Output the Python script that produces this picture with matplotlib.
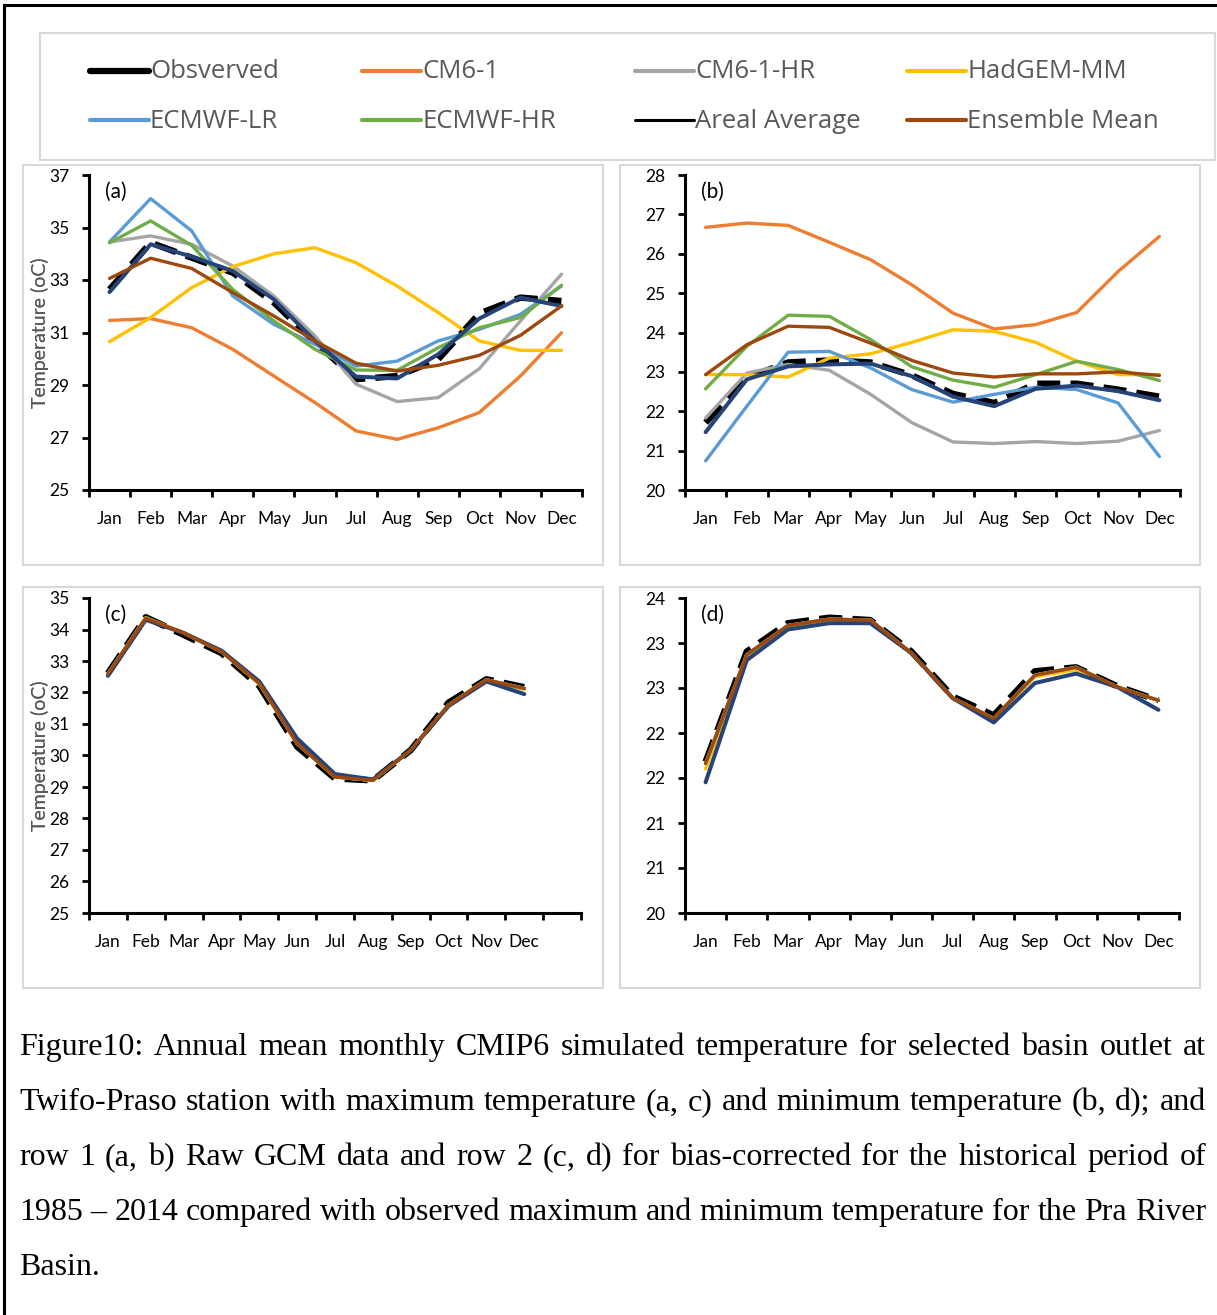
import numpy as np
import matplotlib
matplotlib.use("Agg")
import matplotlib.pyplot as plt
from matplotlib.lines import Line2D
from matplotlib.patches import Rectangle
from matplotlib.ticker import FixedLocator, FuncFormatter, NullFormatter

# ---------------------------------------------------------------- data
months = ["Jan", "Feb", "Mar", "Apr", "May", "Jun",
          "Jul", "Aug", "Sep", "Oct", "Nov", "Dec"]

series_names = ["Obsverved", "CM6-1", "CM6-1-HR", "HadGEM-MM",
                "ECMWF-LR", "ECMWF-HR", "Areal Average", "Ensemble Mean"]

# (a) raw GCM maximum temperature
tmax_obs = [32.64, 34.42, 33.85, 33.28, 32.14, 30.64, 29.22, 29.34, 29.98, 31.72, 32.33, 32.20]
tmax_cm61 = [31.46, 31.53, 31.18, 30.36, 29.34, 28.33, 27.25, 26.93, 27.37, 27.95, 29.34, 30.99]
tmax_cm61hr = [34.45, 34.68, 34.36, 33.53, 32.39, 30.87, 29.03, 28.37, 28.52, 29.62, 31.44, 33.22]
tmax_hadgem = [30.65, 31.57, 32.71, 33.51, 34.00, 34.23, 33.66, 32.77, 31.76, 30.68, 30.32, 30.32]
tmax_ecmwf_lr = [34.45, 36.10, 34.87, 32.39, 31.31, 30.55, 29.72, 29.91, 30.68, 31.12, 31.69, 32.77]
tmax_ecmwf_hr = [34.42, 35.25, 34.32, 32.64, 31.44, 30.36, 29.57, 29.56, 30.42, 31.18, 31.57, 32.80]
tmax_areal = [32.54, 34.36, 33.89, 33.34, 32.26, 30.68, 29.32, 29.25, 30.17, 31.53, 32.33, 32.01]
tmax_ens = [33.06, 33.83, 33.44, 32.52, 31.63, 30.68, 29.83, 29.53, 29.75, 30.13, 30.89, 32.01]

# (b) raw GCM minimum temperature
tmin_obs = [21.71, 22.85, 23.24, 23.29, 23.24, 22.91, 22.44, 22.21, 22.70, 22.70, 22.55, 22.37]
tmin_cm61 = [26.67, 26.78, 26.72, 26.29, 25.85, 25.21, 24.49, 24.09, 24.20, 24.51, 25.55, 26.44]
tmin_cm61hr = [21.83, 22.97, 23.19, 23.04, 22.43, 21.71, 21.22, 21.18, 21.23, 21.18, 21.24, 21.51]
tmin_hadgem = [22.93, 22.93, 22.87, 23.35, 23.46, 23.75, 24.07, 24.03, 23.75, 23.27, 22.93, 22.93]
tmin_ecmwf_lr = [20.74, 22.13, 23.50, 23.52, 23.10, 22.55, 22.23, 22.43, 22.61, 22.55, 22.21, 20.85]
tmin_ecmwf_hr = [22.57, 23.65, 24.44, 24.41, 23.82, 23.13, 22.79, 22.61, 22.93, 23.27, 23.06, 22.78]
tmin_areal = [21.47, 22.81, 23.14, 23.19, 23.21, 22.89, 22.37, 22.13, 22.57, 22.65, 22.51, 22.28]
tmin_ens = [22.93, 23.69, 24.16, 24.13, 23.73, 23.29, 22.97, 22.87, 22.95, 22.95, 23.00, 22.91]

# (c) bias-corrected maximum temperature
tmax_bc_obs = [32.61, 34.39, 33.83, 33.25, 32.21, 30.28, 29.27, 29.21, 30.17, 31.68, 32.42, 32.17]
tmax_bc_gcm = [32.59, 34.36, 33.89, 33.30, 32.29, 30.38, 29.32, 29.21, 30.17, 31.60, 32.40, 32.13]
tmax_bc_hadgem = [32.59, 34.38, 33.89, 33.30, 32.27, 30.38, 29.32, 29.21, 30.17, 31.60, 32.40, 32.10]
tmax_bc_areal = [32.53, 34.31, 33.89, 33.33, 32.35, 30.54, 29.41, 29.24, 30.17, 31.57, 32.35, 31.95]
tmax_bc_ens = [32.59, 34.36, 33.89, 33.30, 32.29, 30.38, 29.32, 29.21, 30.17, 31.60, 32.40, 32.13]

# (d) bias-corrected minimum temperature
tmin_bc_obs = [21.92, 23.32, 23.68, 23.75, 23.72, 23.32, 22.75, 22.51, 23.07, 23.12, 22.88, 22.70]
tmin_bc_gcm = [21.90, 23.28, 23.65, 23.73, 23.72, 23.30, 22.73, 22.47, 23.02, 23.12, 22.87, 22.70]
tmin_bc_hadgem = [21.83, 23.26, 23.64, 23.72, 23.72, 23.30, 22.73, 22.47, 23.00, 23.09, 22.87, 22.70]
tmin_bc_areal = [21.66, 23.21, 23.60, 23.68, 23.68, 23.30, 22.73, 22.42, 22.92, 23.04, 22.87, 22.58]
tmin_bc_ens = [21.90, 23.28, 23.65, 23.73, 23.72, 23.30, 22.73, 22.47, 23.02, 23.12, 22.87, 22.70]

caption_lines = [
    "Figure10: Annual mean monthly CMIP6 simulated temperature for selected basin outlet at",
    "Twifo-Praso station with maximum temperature (a, c) and minimum temperature (b, d); and",
    "row 1 (a, b) Raw GCM data and row 2 (c, d) for bias-corrected for the historical period of",
    "1985 \u2013 2014 compared with observed maximum and minimum temperature for the Pra River",
    "Basin.",
]

# ---------------------------------------------------------------- styles
colors = ["#000000", "#ED7D31", "#A5A5A5", "#FFC000",
          "#5B9BD5", "#70AD47", "#264478", "#9E480E"]
W, H = 1217, 1315
SANS = ["Lato", "DejaVu Sans"]
LEG = ["Open Sans", "DejaVu Sans"]
SERIF = ["Liberation Serif", "DejaVu Serif"]

fig = plt.figure(figsize=(W / 100, H / 100), dpi=100)
fig.patch.set_facecolor("white")


def fx(x):
    return x / W


def fy(y):
    return 1 - y / H


def add_axes_px(l, r, t, b):
    return fig.add_axes([l / W, 1 - b / H, (r - l) / W, (b - t) / H])


# outer frame (top and left rules)
fig.add_artist(Line2D([fx(4), fx(1217)], [fy(5), fy(5)], color="black", lw=2.2,
                      transform=fig.transFigure))
fig.add_artist(Line2D([fx(4), fx(4)], [fy(5), fy(1315)], color="black", lw=2.2,
                      transform=fig.transFigure))

# light grey chart-area boxes (drawn beneath the axes)
for (l, t, r, b) in [(40, 33, 1215, 160), (23, 165, 603, 565), (620, 165, 1200, 565),
                     (23, 587, 603, 988), (620, 587, 1200, 988)]:
    fig.add_artist(Rectangle((fx(l), fy(b)), (r - l) / W, (b - t) / H,
                             transform=fig.transFigure, facecolor="none",
                             edgecolor="#D9D9D9", lw=1.5, zorder=-5))

# ---------------------------------------------------------------- legend
leg_cols = [90, 362, 635, 907]
leg_rows = [71, 120]
leg_swatch_colors = ["#000000", "#ED7D31", "#A5A5A5", "#FFC000",
                     "#5B9BD5", "#70AD47", "#000000", "#9E480E"]
leg_swatch_widths = [4.5, 3.0, 3.0, 3.0, 3.0, 3.0, 2.2, 3.0]
for i, name in enumerate(series_names):
    r, c = divmod(i, 4)
    x0, y0 = leg_cols[c], leg_rows[r]
    fig.add_artist(Line2D([fx(x0), fx(x0 + 59)], [fy(y0), fy(y0)],
                          color=leg_swatch_colors[i], lw=leg_swatch_widths[i],
                          solid_capstyle="round", transform=fig.transFigure))
    fig.text(fx(x0 + 60), fy(y0 + 1), name, color="#595959", fontsize=18.5,
             family=LEG, ha="left", va="center")

# ---------------------------------------------------------------- panels
panels = [
    dict(rect=(89, 582, 175, 490), tag="(a)", ncat=12, ylim=(25, 37),
         yticks=np.arange(25, 38, 2),
         data=[tmax_obs, tmax_cm61, tmax_cm61hr, tmax_hadgem,
               tmax_ecmwf_lr, tmax_ecmwf_hr, tmax_areal, tmax_ens]),
    dict(rect=(685, 1180, 175, 490), tag="(b)", ncat=12, ylim=(20, 28),
         yticks=np.arange(20, 29, 1),
         data=[tmin_obs, tmin_cm61, tmin_cm61hr, tmin_hadgem,
               tmin_ecmwf_lr, tmin_ecmwf_hr, tmin_areal, tmin_ens]),
    dict(rect=(89, 581, 598, 913), tag="(c)", ncat=13, ylim=(25, 35),
         yticks=np.arange(25, 36, 1),
         data=[tmax_bc_obs, tmax_bc_gcm, tmax_bc_gcm, tmax_bc_hadgem,
               tmax_bc_gcm, tmax_bc_gcm, tmax_bc_areal, tmax_bc_ens]),
    dict(rect=(685, 1179, 598, 913), tag="(d)", ncat=12, ylim=(20, 24),
         yticks=np.linspace(20, 24, 8),
         data=[tmin_bc_obs, tmin_bc_gcm, tmin_bc_gcm, tmin_bc_hadgem,
               tmin_bc_gcm, tmin_bc_gcm, tmin_bc_areal, tmin_bc_ens]),
]

x = np.arange(len(months))
for p in panels:
    l, r, t, b = p["rect"]
    ax = add_axes_px(l, r, t, b)
    ax.set_facecolor("none")
    for i, vals in enumerate(p["data"]):
        if i == 0:
            ax.plot(x, vals, color=colors[i], lw=4.6, linestyle=(0, (3.6, 1.6)),
                    solid_capstyle="butt", dash_capstyle="butt", zorder=2)
        elif i == 6:
            ax.plot(x, vals, color=colors[i], lw=2.9, solid_capstyle="round",
                    zorder=2 + i)
        else:
            ax.plot(x, vals, color=colors[i], lw=2.4, solid_capstyle="round",
                    zorder=2 + i)

    ncat = p["ncat"]
    ax.set_xlim(-0.5, ncat - 0.5)
    ax.set_ylim(*p["ylim"])

    ax.xaxis.set_major_locator(FixedLocator(np.arange(ncat + 1) - 0.5))
    ax.xaxis.set_major_formatter(NullFormatter())
    ax.xaxis.set_minor_locator(FixedLocator(x))
    ax.xaxis.set_minor_formatter(FuncFormatter(lambda v, pos: months[int(round(v))]))
    ax.tick_params(axis="x", which="major", direction="out", length=5, width=2,
                   color="black")
    ax.tick_params(axis="x", which="minor", length=0, pad=15, labelsize=12.5,
                   labelcolor="#000000")

    ax.set_yticks(p["yticks"])
    ax.yaxis.set_major_formatter(FuncFormatter(lambda v, pos: "%.0f" % v))
    ax.tick_params(axis="y", direction="out", length=5, width=2, pad=9,
                   labelsize=12.5, labelcolor="#000000")
    for lab in ax.get_xticklabels(minor=True) + ax.get_yticklabels():
        lab.set_family(SANS)

    for s in ("top", "right"):
        ax.spines[s].set_visible(False)
    for s in ("left", "bottom"):
        ax.spines[s].set_linewidth(2.2)
        ax.spines[s].set_color("black")

    ax.set_ylabel("Temperature (oC)", color="#595959", fontsize=14, family=SANS)
    ax.yaxis.set_label_coords((49 - l) / (r - l), 0.5)
    ax.text(0.032, 0.945, p["tag"], transform=ax.transAxes, fontsize=15,
            family=SANS, ha="left", va="center", color="black")

# ---------------------------------------------------------------- caption (justified)
renderer = fig.canvas.get_renderer()
cap_left, cap_right = 19, 1206
cap_base0, cap_step = 1055, 55
cap_size = 23
probe = fig.text(0, 0, "a a", fontsize=cap_size, family=SERIF)
probe2 = fig.text(0, 0, "aa", fontsize=cap_size, family=SERIF)
space_w = (probe.get_window_extent(renderer).width
           - probe2.get_window_extent(renderer).width)
probe.remove()
probe2.remove()

for li, line in enumerate(caption_lines):
    words = line.split(" ")
    yb = fy(cap_base0 + li * cap_step)
    items = [fig.text(0, yb, w, fontsize=cap_size, family=SERIF, color="black",
                      ha="left", va="baseline") for w in words]
    widths = [t.get_window_extent(renderer).width for t in items]
    last = li == len(caption_lines) - 1
    if last or len(words) == 1:
        gap = space_w
    else:
        gap = max((cap_right - cap_left - sum(widths)) / (len(words) - 1),
                  0.5 * space_w)
    xp = cap_left
    for t, w in zip(items, widths):
        t.set_x(fx(xp))
        xp += w + gap

fig.savefig("out.png", dpi=100, facecolor="white")
